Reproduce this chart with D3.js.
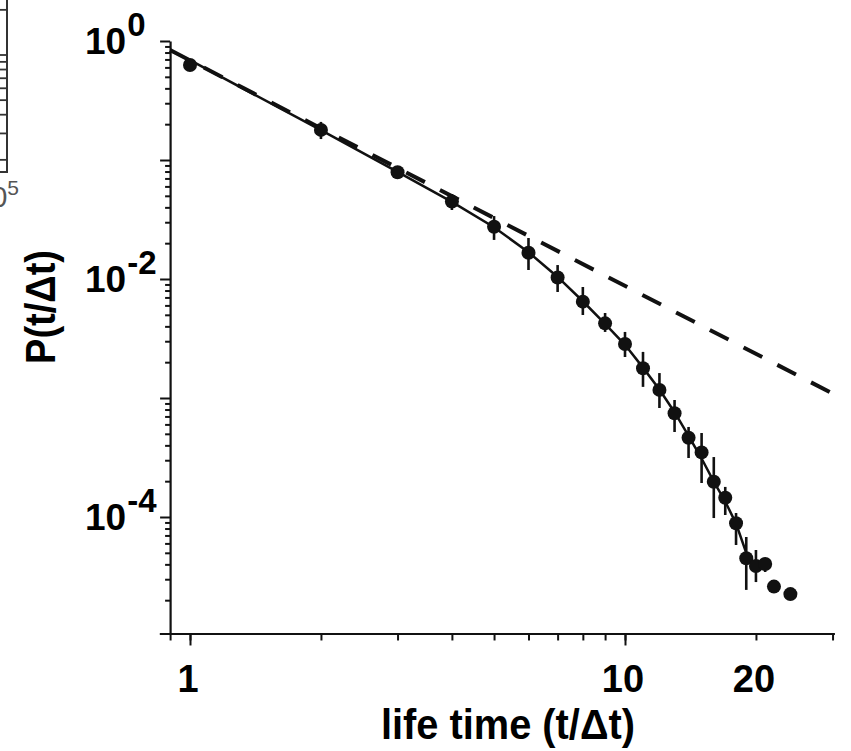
<!DOCTYPE html>
<html>
<head>
<meta charset="utf-8">
<script src="https://cdn.jsdelivr.net/npm/d3@7"></script>
<style>
body { margin: 0; background: #fff; }
svg { display: block; font-family: "Liberation Sans", Arial, sans-serif; }
</style>
</head>
<body>
<svg id="canvas" width="851" height="751"></svg>
<script>
let lifeTime = [1, 2, 3, 4, 5, 6, 7, 8, 9, 10, 11, 12, 13, 14, 15, 16, 17, 18, 19, 20, 21, 22, 24]
let prob = [0.628, 0.179, 0.0788, 0.0447, 0.0275, 0.0166, 0.0103, 0.00645, 0.00424, 0.00284,
            0.00178, 0.00117, 0.000744, 0.000464, 0.000349, 0.000198, 0.000145, 8.85e-5,
            4.5e-5, 3.87e-5, 4.03e-5, 2.6e-5, 2.25e-5]
let errLow = [0.571, 0.150, 0.0692, 0.0380, 0.0213, 0.0119, 0.00778, 0.00498, 0.00359, 0.00221,
              0.00124, 0.000824, 0.000518, 0.000313, 0.000193, 9.8e-5, 0.000104, 5.82e-5,
              2.44e-5, 2.84e-5, 3.45e-5, null, null]
let errHigh = [0.692, 0.209, 0.0891, 0.0518, 0.0338, 0.0221, 0.0131, 0.00857, 0.00518, 0.00359,
               0.00244, 0.00162, 0.000962, 0.000571, 0.000508, 0.000319, 0.000179, 0.000108,
               6.79e-5, 5.28e-5, 4.35e-5, null, null]

// solid fitted curve
let fitTime = [0.9, 1, 2, 3, 4, 5, 6, 7, 8, 9, 10, 11, 12, 13, 14, 15, 16, 17, 18, 19, 20]
let fitProb = [0.832, 0.69, 0.178, 0.0795, 0.0445, 0.0272, 0.0168, 0.0104, 0.0065, 0.0042, 0.0028,
               0.0018, 0.00118, 0.00076, 0.00048, 0.00031, 0.000198, 0.000135, 8.8e-5, 5.0e-5, 3.9e-5]

// dashed power law
let powerTime = [0.9, 30]
let powerProb = [0.84, 0.00109]

// axes
let xTicks = [0.9, 1, 2, 3, 4, 5, 6, 7, 8, 9, 10, 20, 30]
let xMajor = [1, 10]
let xLabelValues = [1, 10, 20]
let xLabelText = ['1', '10', '20']
let yMajor = [1, 0.1, 0.01, 0.001, 0.0001]
let yMinorMult = [2, 3, 4, 5, 6, 7, 8, 9]
let yLabelValues = [1, 0.01, 0.0001]
let yLabelExp = ['0', '-2', '-4']

let canvas = d3.select('#canvas')

let x = d3.scaleLog().domain([1, 10]).range([190, 625])
let xLeft = x(0.85), xRight = x(30.3)
x.domain([0.85, 30.3]).range([xLeft, xRight])

let y = d3.scaleLog().domain([0.0001, 1]).range([517, 41])
let yBottom = y(1.05e-5)
y.domain([1.05e-5, 1]).range([yBottom, 41])

let yMinor = []
yMajor.concat([0.00001]).forEach((m) => {
    yMinorMult.forEach((k) => {
        let v = m * k
        if (v < 1 && v > 1.05e-5) yMinor.push(v)
    })
})

let axisX = x(0.9)

let styleAxis = (g) => {
    g.selectAll('.domain').attr('stroke', '#111').attr('stroke-width', 2.2)
    g.selectAll('.tick line').attr('stroke', '#111').attr('stroke-width', 2)
    g.selectAll('.tick text').remove()
}

// x axis
canvas.append('g')
      .attr('transform', `translate(0, ${yBottom})`)
      .call(d3.axisBottom(x).tickValues(xTicks).tickSize(7).tickSizeOuter(0))
      .call(styleAxis)
canvas.append('g')
      .attr('transform', `translate(0, ${yBottom})`)
      .call(d3.axisBottom(x).tickValues(xMajor).tickSize(12).tickSizeOuter(0))
      .call(styleAxis)
      .call((g) => g.select('.domain').remove())

// y axis
canvas.append('g')
      .attr('transform', `translate(${axisX}, 0)`)
      .call(d3.axisLeft(y).tickValues(yMinor).tickSize(5).tickSizeOuter(0))
      .call(styleAxis)
canvas.append('g')
      .attr('transform', `translate(${axisX}, 0)`)
      .call(d3.axisLeft(y).tickValues(yMajor).tickSize(10).tickSizeOuter(0))
      .call(styleAxis)
      .call((g) => g.select('.domain').remove())

// tick labels
canvas.selectAll('.xlabel')
      .data(xLabelValues)
      .enter()
      .append('text')
      .attr('class', 'xlabel')
      .attr('x', (d) => x(d) - 2)
      .attr('y', 692)
      .attr('text-anchor', 'middle')
      .attr('font-size', 38)
      .attr('font-weight', 'bold')
      .text((d, i) => xLabelText[i])

let yl = canvas.selectAll('.ylabel')
      .data(yLabelValues)
      .enter()
      .append('text')
      .attr('class', 'ylabel')
      .attr('x', 85)
      .attr('y', (d) => y(d) + 13)
      .attr('font-size', 37)
      .attr('font-weight', 'bold')
yl.append('tspan').text('10')
yl.append('tspan')
  .attr('font-size', 33)
  .attr('dx', 1)
  .attr('dy', -18)
  .text((d, i) => yLabelExp[i])

// axis titles
canvas.append('text')
      .attr('x', 508)
      .attr('y', 739)
      .attr('text-anchor', 'middle')
      .attr('font-size', 42)
      .attr('font-weight', 'bold')
      .attr('textLength', 254)
      .attr('lengthAdjust', 'spacingAndGlyphs')
      .text('life time (t/\u0394t)')

canvas.append('text')
      .attr('transform', 'translate(55, 307) rotate(-90)')
      .attr('text-anchor', 'middle')
      .attr('font-size', 42)
      .attr('font-weight', 'bold')
      .attr('textLength', 114)
      .attr('lengthAdjust', 'spacingAndGlyphs')
      .text('P(t/\u0394t)')

// power law (dashed)
let line = d3.line()
    .x((d) => x(d[0]))
    .y((d) => y(d[1]))

canvas.append('path')
      .attr('d', line(powerTime.map((t, i) => [t, powerProb[i]])))
      .attr('fill', 'none')
      .attr('stroke', '#111')
      .attr('stroke-width', 4)
      .attr('stroke-dasharray', '21,17')

// fitted curve (solid)
canvas.append('path')
      .attr('d', line(fitTime.map((t, i) => [t, fitProb[i]])))
      .attr('fill', 'none')
      .attr('stroke', '#111')
      .attr('stroke-width', 2.5)

// error bars
let withErr = lifeTime.map((t, i) => ({ t: t, lo: errLow[i], hi: errHigh[i] })).filter((d) => d.lo !== null)
canvas.selectAll('.err')
      .data(withErr)
      .enter()
      .append('line')
      .attr('class', 'err')
      .attr('x1', (d) => x(d.t))
      .attr('x2', (d) => x(d.t))
      .attr('y1', (d) => y(d.lo))
      .attr('y2', (d) => y(d.hi))
      .attr('stroke', '#111')
      .attr('stroke-width', 2.6)

// points
canvas.selectAll('.dot')
      .data(lifeTime)
      .enter()
      .append('circle')
      .attr('class', 'dot')
      .attr('cx', (d) => x(d))
      .attr('cy', (d, i) => y(prob[i]))
      .attr('r', 7)
      .attr('fill', '#111')

// clipped edge of the neighbouring panel (top-left)
let fragY = d3.scaleLog().domain([10, 1]).range([55, 205])
let fragTicks = []
;[1, 10].forEach((m) => yMinorMult.concat([10]).forEach((k) => {
    let v = m * k
    if (fragY(v) >= 0 && fragY(v) <= 172) fragTicks.push(v)
}))
canvas.selectAll('.fragtick')
      .data(fragTicks)
      .enter()
      .append('line')
      .attr('class', 'fragtick')
      .attr('x1', 0)
      .attr('x2', 7)
      .attr('y1', (d) => fragY(d))
      .attr('y2', (d) => fragY(d))
      .attr('stroke', '#333')
      .attr('stroke-width', 1.8)
canvas.append('path')
      .attr('d', 'M7,0V172H0')
      .attr('fill', 'none')
      .attr('stroke', '#333')
      .attr('stroke-width', 2)
let frag = canvas.append('text')
      .attr('x', 19)
      .attr('y', 207)
      .attr('text-anchor', 'end')
      .attr('font-size', 29)
      .attr('fill', '#555')
frag.append('tspan').text('10')
frag.append('tspan').attr('font-size', 21).attr('dy', -12).text('5')
</script>
</body>
</html>
